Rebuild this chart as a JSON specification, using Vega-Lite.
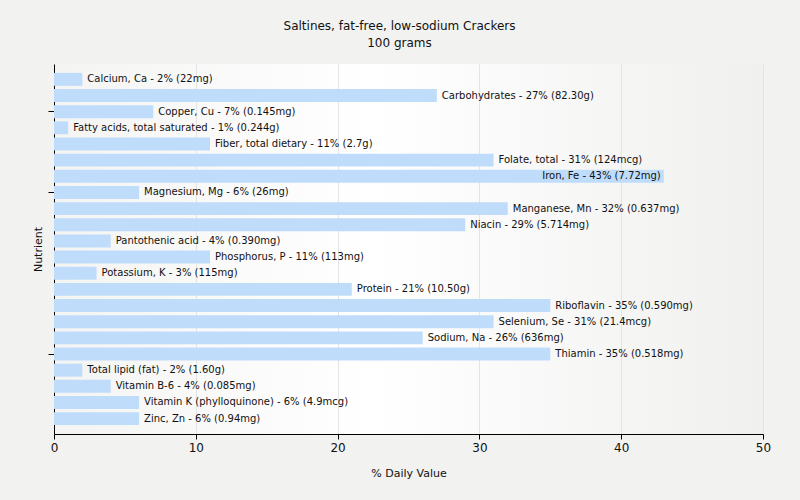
{
  "$schema": "https://vega.github.io/schema/vega-lite/v6.json",
  "autosize": "none",
  "width": 709,
  "height": 370,
  "padding": {"left": 54, "top": 64, "right": 37, "bottom": 66},
  "background": "#f2f2f1",
  "title": {
    "text": ["Saltines, fat-free, low-sodium Crackers", "100 grams"],
    "font": "DejaVu Sans",
    "fontSize": 12,
    "fontWeight": "normal",
    "color": "#111111",
    "lineHeight": 17,
    "anchor": "middle",
    "dx": -9,
    "offset": 14
  },
  "config": {
    "view": {
      "stroke": null,
      "fill": {"gradient": "linear", "x1": 0, "y1": 0, "x2": 1, "y2": 0, "stops": [{"offset": 0, "color": "#f4f4f3"}, {"offset": 0.45, "color": "#ffffff"}, {"offset": 1, "color": "#f0f0ef"}]}
    },
    "font": "DejaVu Sans"
  },
  "data": {
    "values": [
      {"nutrient": "Calcium, Ca", "value": 2, "label": "Calcium, Ca - 2% (22mg)"},
      {"nutrient": "Carbohydrates", "value": 27, "label": "Carbohydrates - 27% (82.30g)"},
      {"nutrient": "Copper, Cu", "value": 7, "label": "Copper, Cu - 7% (0.145mg)"},
      {"nutrient": "Fatty acids, total saturated", "value": 1, "label": "Fatty acids, total saturated - 1% (0.244g)"},
      {"nutrient": "Fiber, total dietary", "value": 11, "label": "Fiber, total dietary - 11% (2.7g)"},
      {"nutrient": "Folate, total", "value": 31, "label": "Folate, total - 31% (124mcg)"},
      {"nutrient": "Iron, Fe", "value": 43, "label": "Iron, Fe - 43% (7.72mg)"},
      {"nutrient": "Magnesium, Mg", "value": 6, "label": "Magnesium, Mg - 6% (26mg)"},
      {"nutrient": "Manganese, Mn", "value": 32, "label": "Manganese, Mn - 32% (0.637mg)"},
      {"nutrient": "Niacin", "value": 29, "label": "Niacin - 29% (5.714mg)"},
      {"nutrient": "Pantothenic acid", "value": 4, "label": "Pantothenic acid - 4% (0.390mg)"},
      {"nutrient": "Phosphorus, P", "value": 11, "label": "Phosphorus, P - 11% (113mg)"},
      {"nutrient": "Potassium, K", "value": 3, "label": "Potassium, K - 3% (115mg)"},
      {"nutrient": "Protein", "value": 21, "label": "Protein - 21% (10.50g)"},
      {"nutrient": "Riboflavin", "value": 35, "label": "Riboflavin - 35% (0.590mg)"},
      {"nutrient": "Selenium, Se", "value": 31, "label": "Selenium, Se - 31% (21.4mcg)"},
      {"nutrient": "Sodium, Na", "value": 26, "label": "Sodium, Na - 26% (636mg)"},
      {"nutrient": "Thiamin", "value": 35, "label": "Thiamin - 35% (0.518mg)"},
      {"nutrient": "Total lipid (fat)", "value": 2, "label": "Total lipid (fat) - 2% (1.60g)"},
      {"nutrient": "Vitamin B-6", "value": 4, "label": "Vitamin B-6 - 4% (0.085mg)"},
      {"nutrient": "Vitamin K (phylloquinone)", "value": 6, "label": "Vitamin K (phylloquinone) - 6% (4.9mcg)"},
      {"nutrient": "Zinc, Zn", "value": 6, "label": "Zinc, Zn - 6% (0.94mg)"}
    ]
  },
  "encoding": {
    "y": {
      "field": "nutrient",
      "type": "nominal",
      "sort": null,
      "scale": {"paddingInner": 0.2, "paddingOuter": 0.55},
      "axis": {
        "title": "Nutrient",
        "titleFont": "DejaVu Sans",
        "titleFontSize": 11,
        "titleFontWeight": "normal",
        "titleColor": "#111111",
        "titlePadding": 4,
        "labels": false,
        "values": ["Copper, Cu", "Magnesium, Mg", "Thiamin"],
        "tickColor": "#000000",
        "tickSize": 6,
        "domainColor": "#000000",
        "domainWidth": 1
      }
    }
  },
  "layer": [
    {
      "mark": {"type": "bar", "color": "#bfdcfb"},
      "encoding": {
        "x": {
          "field": "value",
          "type": "quantitative",
          "scale": {"domain": [0, 50], "nice": false},
          "axis": {
            "title": "% Daily Value",
            "titleFont": "DejaVu Sans",
            "titleFontSize": 11,
            "titleFontWeight": "normal",
            "titleColor": "#111111",
            "titlePadding": 14,
            "values": [0, 10, 20, 30, 40, 50],
            "labelFont": "DejaVu Sans",
            "labelFontSize": 12,
            "labelColor": "#111111",
            "labelPadding": 3,
            "labelFlush": false,
            "tickColor": "#000000",
            "tickSize": 5,
            "domainColor": "#000000",
            "grid": true,
            "gridColor": "#e4e4e4"
          }
        }
      }
    },
    {
      "transform": [{"filter": "datum.value < 40"}],
      "mark": {"type": "text", "align": "left", "baseline": "middle", "dx": 5, "font": "DejaVu Sans", "fontSize": 10, "color": "#111111"},
      "encoding": {
        "x": {"field": "value", "type": "quantitative"},
        "text": {"field": "label"}
      }
    },
    {
      "transform": [{"filter": "datum.value >= 40"}],
      "mark": {"type": "text", "align": "right", "baseline": "middle", "dx": -3, "font": "DejaVu Sans", "fontSize": 10, "color": "#111111"},
      "encoding": {
        "x": {"field": "value", "type": "quantitative"},
        "text": {"field": "label"}
      }
    }
  ]
}
